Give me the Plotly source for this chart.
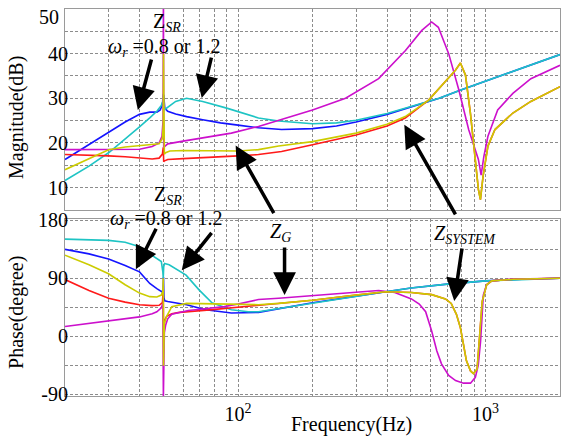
import math
import plotly.graph_objects as go

# ---------------- magnitude (dB) ----------------
mag_blue_f = [20, 25, 30, 35, 40, 44, 47, 48.5, 49.5, 49.9, 50.1, 50.6, 52, 56, 62, 72, 85, 100, 121, 150,
              200, 250, 300, 400, 500, 650, 800, 1000, 1300, 1600, 2000]
mag_blue = [16.3, 19.6, 22.3, 24.7, 26.4, 26.9, 26.9, 27.4, 28.6, 30.0, 30.8, 27.8, 27.1, 26.5, 25.9, 25.2,
            24.5, 24.0, 23.4, 23.0, 23.2, 23.8, 24.7, 26.4, 28.0, 30.0, 31.9, 33.8, 36.1, 37.9, 39.8]

mag_cyan_f = [20, 25, 30, 35, 40, 44, 47, 49, 49.6, 49.9, 50.2, 50.6, 52, 56, 62, 72, 90, 121, 146,
              200, 250, 300, 400, 500, 650, 800, 1000, 1300, 1600, 2000]
mag_cyan = [11.6, 14.8, 17.8, 20.8, 23.6, 25.6, 27.1, 28.4, 29.3, 31.0, 27.6, 27.5, 28.0, 29.3, 30.0, 29.3,
            27.8, 25.6, 24.9, 24.3, 24.5, 25.1, 26.6, 28.1, 30.0, 31.9, 33.8, 36.1, 37.9, 39.8]

mag_red_f = [20, 25, 30, 35, 40, 45, 48, 49.5, 49.9, 50.1, 50.5, 52, 60, 80, 100, 121, 150, 200, 300, 400,
             474, 589, 688, 756, 792, 830, 869, 910, 936, 954, 978, 1023, 1092, 1290, 1525, 2000]
mag_red = [17.4, 17.3, 17.1, 16.9, 16.6, 16.4, 16.6, 17.5, 19.0, 15.8, 16.0, 16.3, 16.5, 16.8, 17.1, 17.4,
           18.1, 19.6, 21.8, 23.8, 25.6, 29.6, 33.7, 36.3, 37.9, 35.2, 26.7, 16.3, 9.6, 7.3, 12.6, 19.3,
           23.0, 26.7, 29.3, 32.6]

mag_yellow_f = [20, 25, 30, 35, 40, 45, 48, 49.5, 49.9, 50.0, 50.1, 50.4, 51, 53, 60, 80, 100, 121, 146, 200,
                300, 400, 474, 589, 688, 756, 792, 830, 869, 910, 936, 954, 978, 1023, 1092, 1290, 1525, 2000]
mag_yellow = [14.0, 16.5, 18.5, 19.1, 19.4, 19.6, 19.8, 21.0, 24.0, 40.0, 22.0, 17.5, 17.8, 18.2, 18.3, 18.2,
              18.2, 18.5, 19.3, 20.3, 22.2, 24.2, 25.9, 29.6, 33.7, 36.3, 37.9, 35.2, 26.7, 16.3, 9.6, 7.3,
              12.6, 19.3, 23.0, 26.7, 29.3, 32.6]

mag_magenta_f = [20, 30, 40, 45, 48, 49.3, 49.8, 49.97, 50.1, 50.5, 52, 60, 72, 94, 121, 146, 200, 272, 370,
                 475, 553, 606, 645, 710, 780, 855, 936, 960, 985, 1023, 1120, 1290, 1525, 2000]
mag_magenta = [18.5, 18.5, 18.6, 19.2, 20.0, 21.5, 25.0, 55.0, 19.0, 19.2, 19.8, 20.4, 21.1, 22.2, 23.7, 25.1,
               27.4, 30.0, 34.4, 40.7, 45.2, 47.1, 45.9, 40.0, 31.9, 23.0, 16.3, 12.8, 17.0, 21.5, 27.4, 31.1,
               34.4, 37.4]

# ---------------- phase (degree) ----------------
ph_cyan_f = [20, 25, 30, 35, 40, 44, 47, 49, 49.7, 49.9, 50.1, 50.5, 52.7, 56, 61.7, 69.6, 78.5, 94, 110, 121,
             146, 200, 300, 395, 500, 700, 1000, 1400, 2000]
ph_cyan = [151, 150, 149, 146, 139, 128, 120, 116, 100, 90, 108, 113, 111, 105, 95, 72, 52, 41, 38, 38,
           43, 52, 62, 69, 75, 81, 86, 88.5, 90]

ph_blue_f = [20, 25, 30, 35, 40, 44, 47, 49.3, 49.8, 50.0, 50.2, 50.6, 52, 56, 62, 74, 94, 121, 146, 200,
             300, 395, 500, 700, 1000, 1400, 2000]
ph_blue = [135, 128, 120, 110, 100, 82, 74, 69, 72, 92, 60, 55, 54, 52, 49, 41, 36, 37, 43, 52,
           62, 69, 75, 81, 86, 88.5, 90]

ph_yellow_f = [20, 25, 30, 35, 40, 44, 47, 49, 49.7, 49.9, 50.0, 50.1, 50.4, 51.5, 54, 62, 80, 100, 121, 146,
               200, 300, 395, 502, 606, 689, 727, 763, 792, 815, 837, 870, 894, 925, 936, 955, 970, 1011,
               1060, 1300, 2000]
ph_yellow = [126, 111, 97, 80, 67, 61.5, 61, 64, 70, 90, -46, -10, 20, 31, 46, 51, 50, 49, 49, 51,
             56, 64, 69, 68, 64.6, 58, 51, 34, 13, -13, -38, -54, -58, -51, -28, 12, 54, 80,
             86, 88.5, 90]

ph_red_f = [20, 25, 30, 35, 40, 45, 48, 49.5, 49.9, 50.05, 50.2, 50.6, 51.5, 54, 58, 77, 100, 121, 146, 200,
            300, 395, 502, 606, 689, 727, 763, 792, 815, 837, 870, 894, 925, 936, 955, 970, 1011, 1060,
            1300, 2000]
ph_red = [88, 71, 59, 53, 49, 47.5, 48, 52, 72, 0, 15, 25, 31, 35, 37, 41, 45, 48, 51, 56,
          64, 69, 68, 64.6, 58, 51, 34, 13, -13, -38, -54, -58, -51, -28, 12, 54, 80, 86,
          88.5, 90]

ph_magenta_f = [20, 25, 30, 35, 40, 45, 47, 49, 49.7, 49.95, 50.1, 50.4, 51, 52, 54, 58, 63, 75, 88, 100,
                121, 146, 200, 280, 370, 430, 502, 540, 573, 606, 636, 664, 710, 757, 815, 870, 910, 935,
                955, 970, 980, 1010, 1060, 1300, 2000]
ph_magenta = [15, 20, 24, 26.5, 30, 35, 38, 44, 51, -95, -30, 5, 17, 27, 34, 37, 40, 43, 46, 50,
              57, 59, 63, 67, 71, 68, 58, 50, 38, 8, -23, -43, -61, -69, -73, -73, -64, -45,
              -8, 35, 64, 80, 86, 89, 90]

# ---------------- axis ticks ----------------
freq_grid = [20, 30, 40, 50, 60, 70, 80, 90, 100, 200, 300, 400, 500, 600, 700, 800, 900, 1000, 2000]
freq_labels = {100: "10<sup>2</sup>", 1000: "10<sup>3</sup>"}
mag_grid = [5, 10, 15, 20, 25, 30, 35, 40, 45, 50]
mag_labels = [10, 20, 30, 40]          # the top label (50) sits at the frame edge, drawn separately
ph_grid = [-90, -45, 0, 45, 90, 135, 180]
ph_labels = [-90, 0, 90, 180]

BLUE, CYAN, RED, YELLOW, MAGENTA = "#1414ff", "#1ec4c4", "#ff1a1a", "#cccc00", "#cc10cc"
FONT = "Liberation Serif"

fig = go.Figure()

mag_series = [(mag_blue_f, mag_blue, BLUE), (mag_cyan_f, mag_cyan, CYAN), (mag_red_f, mag_red, RED),
              (mag_magenta_f, mag_magenta, MAGENTA), (mag_yellow_f, mag_yellow, YELLOW)]
ph_series = [(ph_blue_f, ph_blue, BLUE), (ph_cyan_f, ph_cyan, CYAN), (ph_red_f, ph_red, RED),
             (ph_magenta_f, ph_magenta, MAGENTA), (ph_yellow_f, ph_yellow, YELLOW)]

for f, v, c in mag_series:
    fig.add_trace(go.Scatter(x=f, y=v, mode="lines", line=dict(color=c, width=1.6),
                             xaxis="x", yaxis="y", showlegend=False))
for f, v, c in ph_series:
    fig.add_trace(go.Scatter(x=f, y=v, mode="lines", line=dict(color=c, width=1.6),
                             xaxis="x2", yaxis="y2", showlegend=False))

W, H = 561, 439
ML, MR, MT, MB = 65, 0, 5, 43
PW, PH = W - ML - MR, H - MT - MB


def px(x):
    return (x - ML) / PW


def py(y):
    return (H - MB - y) / PH


tickfont = dict(family=FONT, size=20, color="black")
grid = dict(showgrid=True, gridcolor="#8c8c8c", griddash="3px,2px", gridwidth=1,
            showline=True, linecolor="#9a9a9a", linewidth=1.2, mirror=True, ticks="",
            zeroline=False, tickfont=tickfont)

xr = [math.log10(20), math.log10(2000)]
fig.update_layout(
    width=W, height=H, margin=dict(l=ML, r=MR, t=MT, b=MB),
    paper_bgcolor="white", plot_bgcolor="white",
    font=dict(family=FONT, size=20, color="black"),
    xaxis=dict(type="log", range=xr, anchor="y", tickvals=freq_grid,
               ticktext=["" for _ in freq_grid], **grid),
    xaxis2=dict(type="log", range=xr, anchor="y2", tickvals=freq_grid,
                ticktext=[freq_labels.get(v, "") for v in freq_grid], **grid),
    yaxis=dict(domain=[py(208), 1], range=[5, 50], tickvals=mag_grid, ticklabelstandoff=-8,
               ticktext=[str(v) if v in mag_labels else "" for v in mag_grid], **grid),
    yaxis2=dict(domain=[0, py(217)], range=[-93, 182.5], tickvals=ph_grid, ticklabelstandoff=-8,
                ticktext=[str(v) if v in ph_labels else "" for v in ph_grid], **grid),
)

txt = dict(family=FONT, size=20, color="black")
center = dict(xref="paper", yref="paper", xanchor="center", yanchor="middle", showarrow=False, font=txt)

# top magnitude tick label, nudged inside the page
fig.add_annotation(x=px(61), y=py(13), text="50", xref="paper", yref="paper", xanchor="right",
                   yanchor="middle", showarrow=False, font=tickfont)

# axis titles
fig.add_annotation(x=px(17), y=py(115), text="Magnitude(dB)", textangle=-90, **center)
fig.add_annotation(x=px(17), y=py(312), text="Phase(degree)", textangle=-90, **center)
fig.add_annotation(x=px(352), y=py(425), text="Frequency(Hz)", **center)

# curve labels
labels = [
    (167, 19, "Z<sub><i>SR</i></sub>"),
    (165, 44, "<i>ω<sub>r</sub></i> =0.8 or 1.2"),
    (168, 193, "Z<sub><i>SR</i></sub>"),
    (167, 218, "<i>ω<sub>r</sub></i> =0.8 or 1.2"),
    (281, 231, "<i>Z<sub>G</sub></i>"),
    (466, 233, "<i>Z<sub>SYSTEM</sub></i>"),
]
for x, y, t in labels:
    fig.add_annotation(x=px(x), y=py(y), text=t, **center)

# pointer arrows: (tail x, tail y, head x, head y)
arrows = [
    (152, 55, 138, 107),
    (212, 53, 202, 95),
    (275, 212, 236, 143),
    (457, 213, 405, 122),
    (157, 226, 136, 268),
    (213, 230, 182, 269),
    (285, 245, 285, 294),
    (463, 246, 455, 300),
]
for tx, ty, hx, hy in arrows:
    fig.add_annotation(x=px(hx), y=py(hy), xref="paper", yref="paper", text="",
                       showarrow=True, ax=tx - hx, ay=ty - hy, axref="pixel", ayref="pixel",
                       arrowhead=2, arrowsize=1.3, arrowwidth=3.5, arrowcolor="black")

fig.write_html("out.html")
